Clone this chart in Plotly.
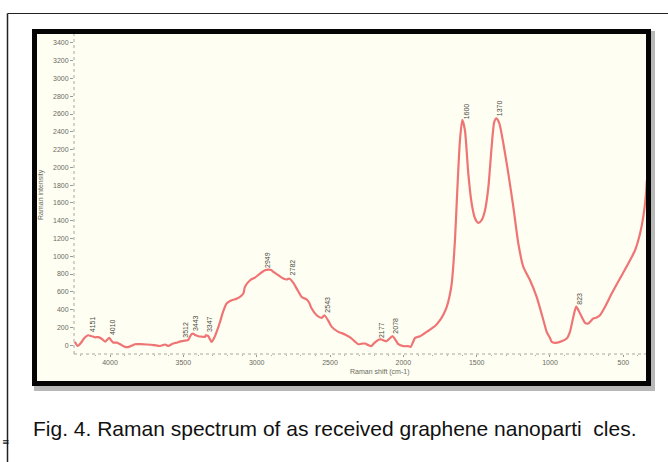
import numpy as np
import plotly.graph_objects as go

# Raman shift (cm-1) and intensity
raman_shift = [4240, 4220, 4200, 4175, 4150, 4125, 4102, 4080, 4057, 4034, 4005, 3990, 3977, 3955,
               3943, 3920, 3898, 3875, 3850, 3830, 3790, 3750, 3700, 3659, 3625, 3602, 3580, 3568,
               3540, 3512, 3489, 3466, 3450, 3437, 3415, 3398, 3375, 3352, 3347, 3330, 3307, 3290,
               3273, 3250, 3230, 3205, 3170, 3140, 3114, 3091, 3080, 3045, 3011, 2977, 2943, 2921,
               2900, 2886, 2852, 2818, 2795, 2778, 2750, 2727, 2693, 2659, 2640, 2625, 2591, 2557,
               2538, 2510, 2488, 2443, 2420, 2398, 2352, 2330, 2307, 2285, 2261, 2240, 2220, 2200,
               2182, 2165, 2148, 2130, 2114, 2090, 2073, 2050, 2034, 2000, 1966, 1950, 1935, 1920,
               1886, 1841, 1818, 1780, 1750, 1725, 1704, 1685, 1670, 1648, 1632, 1614, 1598, 1580,
               1557, 1534, 1511, 1489, 1466, 1443, 1420, 1398, 1380, 1365, 1345, 1318, 1284, 1250,
               1216, 1182, 1136, 1091, 1045, 1023, 1000, 988, 966, 932, 886, 864, 841, 821,
               795, 761, 739, 705, 682, 659, 625, 579, 523, 466, 420, 386, 364, 345, 340]
intensity = [36, -10, 20, 80, 111, 100, 88, 90, 72, 40, 81, 50, 28, 28,
             22, 0, -20, -22, -5, 10, 10, 7, 0, -10, 7, -10, 10, 18,
             30, 45, 50, 60, 110, 130, 110, 100, 95, 92, 110, 100, 36, 80,
             149, 260, 370, 468, 505, 520, 542, 580, 655, 730, 760, 805, 842, 850,
             845, 823, 786, 749, 738, 749, 700, 636, 542, 513, 470, 411, 336, 306,
             336, 270, 205, 149, 135, 119, 74, 40, 10, 15, 18, 0, -12, 20,
             44, 63, 63, 50, 44, 80, 100, 50, 10, -12, -12, -20, 30, 81,
             100, 149, 175, 220, 280, 350, 430, 550, 693, 1180, 1742, 2305, 2535, 2417,
             1930, 1593, 1424, 1375, 1405, 1517, 1780, 2229, 2511, 2552, 2493, 2268, 1930, 1555,
             1143, 880, 730, 542, 280, 150, 80, 36, 25, 36, 74, 149, 317, 432,
             355, 250, 243, 299, 310, 336, 430, 580, 749, 918, 1067, 1255, 1442, 1705, 1850]

peak_labels = [4151, 4010, 3512, 3443, 3347, 2949, 2782, 2543, 2177, 2078, 1600, 1370, 823]

y_ticks = list(range(0, 3401, 200))
x_ticks = [4000, 3500, 3000, 2500, 2000, 1500, 1000, 500]

W, H = 668, 462
L, R, T, B = 74, 22, 34, 108
PW, PH = W - L - R, H - T - B


def px(xp):
    return (xp - L) / PW


def py(yp):
    return (H - B - yp) / PH


line_color = "#EF7474"
cream = "#FEFEF3"
tick_font = dict(family="Liberation Sans, Arial", size=7, color="#6b6b60")

fig = go.Figure()
fig.add_trace(go.Scatter(x=raman_shift, y=intensity, mode="lines",
                         line=dict(color=line_color, width=2.2, shape="spline", smoothing=0.6),
                         hoverinfo="skip", showlegend=False))

shapes = []
# shadow of the chart frame
shapes.append(dict(type="rect", xref="paper", yref="paper",
                   x0=px(37), x1=px(652), y0=py(388), y1=py(34),
                   line=dict(color="rgba(0,0,0,0.28)", width=6), layer="below"))
# cream interior of frame
shapes.append(dict(type="rect", xref="paper", yref="paper",
                   x0=px(34.5), x1=px(648.5), y0=py(383.5), y1=py(31.5),
                   line=dict(width=0), fillcolor=cream, layer="below"))
# dotted axes
shapes.append(dict(type="line", xref="paper", yref="paper", x0=0, x1=0, y0=0, y1=1,
                   line=dict(color="#a8a89a", width=1, dash="dot"), layer="below"))
shapes.append(dict(type="line", xref="paper", yref="paper", x0=0, x1=1, y0=0, y1=0,
                   line=dict(color="#a8a89a", width=1, dash="dot"), layer="below"))
# black frame
shapes.append(dict(type="rect", xref="paper", yref="paper",
                   x0=px(34.5), x1=px(648.5), y0=py(383.5), y1=py(31.5),
                   line=dict(color="#050505", width=5), layer="above"))
# outer page border lines
shapes.append(dict(type="line", xref="paper", yref="paper", x0=px(7.5), x1=px(668), y0=py(13.5), y1=py(13.5),
                   line=dict(color="#222", width=1.2)))
shapes.append(dict(type="line", xref="paper", yref="paper", x0=px(7.5), x1=px(7.5), y0=py(13.5), y1=py(462),
                   line=dict(color="#222", width=1.5)))

annotations = []
xi = np.array(raman_shift[::-1], dtype=float)
yi = np.array(intensity[::-1], dtype=float)
for p in peak_labels:
    yv = float(np.interp(p, xi, yi))
    annotations.append(dict(x=p, y=yv, xref="x", yref="y", text=str(p), showarrow=False,
                            textangle=-90, xanchor="center", yanchor="bottom", xshift=4, yshift=1,
                            font=dict(family="Liberation Sans, Arial", size=7, color="#4a4a40")))

annotations.append(dict(x=px(380), y=py(372), xref="paper", yref="paper", text="Raman shift (cm-1)",
                        showarrow=False, xanchor="center", yanchor="middle", font=tick_font))
annotations.append(dict(x=px(41), y=py(195), xref="paper", yref="paper", text="Raman intensity",
                        showarrow=False, textangle=-90, xanchor="center", yanchor="middle", font=tick_font))
annotations.append(dict(x=px(334), y=py(428), xref="paper", yref="paper",
                        text="Fig. 4. Raman spectrum of as received graphene nanoparti\u00a0 cles.",
                        showarrow=False, xanchor="center", yanchor="middle",
                        font=dict(family="Liberation Sans, Arial", size=21, color="#111")))
annotations.append(dict(x=px(0), y=py(442), xref="paper", yref="paper", text="≡",
                        showarrow=False, xanchor="left", yanchor="middle",
                        font=dict(family="DejaVu Sans", size=9, color="#111")))

fig.update_layout(
    width=W, height=H,
    margin=dict(l=L, r=R, t=T, b=B, pad=0),
    paper_bgcolor="white",
    plot_bgcolor="rgba(0,0,0,0)",
    shapes=shapes,
    annotations=annotations,
    showlegend=False,
    xaxis=dict(range=[4245.5, 345.4], tickvals=x_ticks, ticktext=[str(v) for v in x_ticks],
               showgrid=False, zeroline=False, showline=False, ticks="outside", ticklen=2,
               tickcolor="#999", tickfont=tick_font,
               minor=dict(tickvals=list(range(4200, 340, -100)), ticks="outside", ticklen=1, tickcolor="#aaa")),
    yaxis=dict(range=[-100, 3500], tickvals=y_ticks, ticktext=[str(v) for v in y_ticks],
               showgrid=False, zeroline=False, showline=False, ticks="outside", ticklen=3,
               tickcolor="#999", tickfont=tick_font),
)

fig.write_html("out.html", config={"displayModeBar": False},
               post_script="document.body.style.margin='0';document.body.style.overflow='hidden';")
